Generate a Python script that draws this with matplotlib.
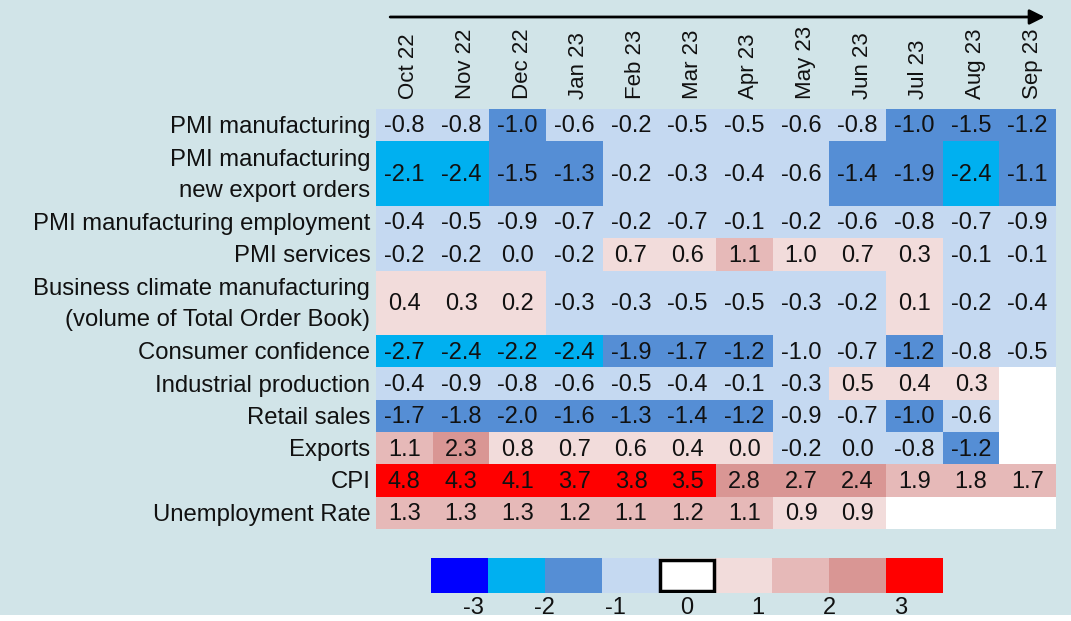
import numpy as np
import matplotlib
matplotlib.use("Agg")
import matplotlib.pyplot as plt
from matplotlib.colors import ListedColormap, BoundaryNorm
from matplotlib.patches import Rectangle
import matplotlib.transforms as mtransforms

plt.rcParams['font.family'] = ['Liberation Sans', 'DejaVu Sans']

months = ['Oct 22', 'Nov 22', 'Dec 22', 'Jan 23', 'Feb 23', 'Mar 23',
          'Apr 23', 'May 23', 'Jun 23', 'Jul 23', 'Aug 23', 'Sep 23']

indicators = ['PMI manufacturing',
              'PMI manufacturing\nnew export orders',
              'PMI manufacturing employment',
              'PMI services',
              'Business climate manufacturing\n(volume of Total Order Book)',
              'Consumer confidence',
              'Industrial production',
              'Retail sales',
              'Exports',
              'CPI',
              'Unemployment Rate']

# row heights (two-line labels take a double row)
row_heights = [1, 2, 1, 1, 2, 1, 1, 1, 1, 1, 1]

nan = np.nan
values = np.array([
    [-0.8, -0.8, -1.0, -0.6, -0.2, -0.5, -0.5, -0.6, -0.8, -1.0, -1.5, -1.2],
    [-2.1, -2.4, -1.5, -1.3, -0.2, -0.3, -0.4, -0.6, -1.4, -1.9, -2.4, -1.1],
    [-0.4, -0.5, -0.9, -0.7, -0.2, -0.7, -0.1, -0.2, -0.6, -0.8, -0.7, -0.9],
    [-0.2, -0.2, 0.0, -0.2, 0.7, 0.6, 1.1, 1.0, 0.7, 0.3, -0.1, -0.1],
    [0.4, 0.3, 0.2, -0.3, -0.3, -0.5, -0.5, -0.3, -0.2, 0.1, -0.2, -0.4],
    [-2.7, -2.4, -2.2, -2.4, -1.9, -1.7, -1.2, -1.0, -0.7, -1.2, -0.8, -0.5],
    [-0.4, -0.9, -0.8, -0.6, -0.5, -0.4, -0.1, -0.3, 0.5, 0.4, 0.3, nan],
    [-1.7, -1.8, -2.0, -1.6, -1.3, -1.4, -1.2, -0.9, -0.7, -1.0, -0.6, nan],
    [1.1, 2.3, 0.8, 0.7, 0.6, 0.4, 0.0, -0.2, 0.0, -0.8, -1.2, nan],
    [4.8, 4.3, 4.1, 3.7, 3.8, 3.5, 2.8, 2.7, 2.4, 1.9, 1.8, 1.7],
    [1.3, 1.3, 1.3, 1.2, 1.1, 1.2, 1.1, 0.9, 0.9, nan, nan, nan],
])

# colour class of each cell as shown (0 = strongest blue ... 4 = white ... 8 = red)
levels = np.array([
    [3, 3, 2, 3, 3, 3, 3, 3, 3, 2, 2, 2],
    [1, 1, 2, 2, 3, 3, 3, 3, 2, 2, 1, 2],
    [3, 3, 3, 3, 3, 3, 3, 3, 3, 3, 3, 3],
    [3, 3, 3, 3, 5, 5, 6, 5, 5, 5, 3, 3],
    [5, 5, 5, 3, 3, 3, 3, 3, 3, 5, 3, 3],
    [1, 1, 1, 1, 2, 2, 2, 3, 3, 2, 3, 3],
    [3, 3, 3, 3, 3, 3, 3, 3, 5, 5, 5, 4],
    [2, 2, 2, 2, 2, 2, 2, 3, 3, 2, 3, 4],
    [6, 7, 5, 5, 5, 5, 5, 3, 3, 3, 2, 4],
    [8, 8, 8, 8, 8, 8, 7, 7, 7, 6, 6, 6],
    [6, 6, 6, 6, 6, 6, 6, 5, 5, 4, 4, 4],
])

palette = ['#0000FF', '#00B0F0', '#558ED5', '#C5D9F1', '#FFFFFF',
           '#F2DCDB', '#E6B9B8', '#D99694', '#FF0000']
scale_labels = ['-3', '-2', '-1', '0', '1', '2', '3']

bg = '#d1e4e8'
W, H = 1071, 621
fig = plt.figure(figsize=(W / 100, H / 100), dpi=100, facecolor=bg)

cmap = ListedColormap(palette)
norm = BoundaryNorm(np.arange(-0.5, len(palette)), cmap.N)

# table axes
tl, tr, tt, tb = 376, 1056, 109, 529
ax = fig.add_axes([tl / W, 1 - tb / H, (tr - tl) / W, (tb - tt) / H])
ax.set_facecolor(bg)
y_edges = np.concatenate([[0], np.cumsum(row_heights)])
x_edges = np.arange(len(months) + 1)
ax.pcolormesh(x_edges, y_edges, levels, cmap=cmap, norm=norm)
ax.set_xlim(0, len(months))
ax.set_ylim(y_edges[-1], 0)
for s in ax.spines.values():
    s.set_visible(False)

y_centers = (y_edges[:-1] + y_edges[1:]) / 2
for i, lab in enumerate(indicators):
    ax.text(-0.1, y_centers[i] + 0.06, lab, ha='right', va='center',
            fontsize=17.2, linespacing=1.55, color='#111111')
    for j in range(len(months)):
        v = values[i, j]
        if np.isnan(v):
            continue
        ax.text(j + 0.5, y_centers[i] + 0.04, f'{v:.1f}', ha='center',
                va='center', fontsize=17, color='#111111')

ax.xaxis.tick_top()
ax.set_xticks(x_edges[:-1] + 0.58)
ax.set_xticklabels(months, rotation=90, fontsize=16, color='#111111')
ax.tick_params(axis='x', length=0, pad=7)
ax.set_yticks([])

# time arrow above the month labels
trans = mtransforms.blended_transform_factory(ax.transData, fig.transFigure)
ax.annotate('', xy=(11.8, 1 - 17 / H), xytext=(0.25, 1 - 17 / H),
            xycoords=trans, textcoords=trans, annotation_clip=False,
            arrowprops=dict(arrowstyle='-|>,head_length=0.9,head_width=0.45',
                            color='black', lw=2, shrinkA=0, shrinkB=0))

# colour scale legend
ll, lr, lt, lb = 431, 943, 558, 593
lax = fig.add_axes([ll / W, 1 - lb / H, (lr - ll) / W, (lb - lt) / H])
lax.pcolormesh(np.arange(len(palette) + 1), [0, 1],
               np.arange(len(palette))[None, :], cmap=cmap, norm=norm)
lax.add_patch(Rectangle((4.03, 0.05), 0.94, 0.9, fill=False, lw=2.5,
                        edgecolor='black'))
lax.set_xlim(0, len(palette))
lax.set_ylim(0, 1)
for s in lax.spines.values():
    s.set_visible(False)
lax.set_yticks([])
lax.set_xticks(4.5 + 1.25 * np.arange(-3, 4))
lax.set_xticklabels(scale_labels, fontsize=17, color='#111111')
lax.tick_params(axis='x', length=0, pad=3)

# thin white strip along the bottom edge
fig.patches.append(Rectangle((0, 0), 1, 6 / H, transform=fig.transFigure,
                             facecolor='white', edgecolor='none'))

fig.savefig('out.png', dpi=100, facecolor=bg)
